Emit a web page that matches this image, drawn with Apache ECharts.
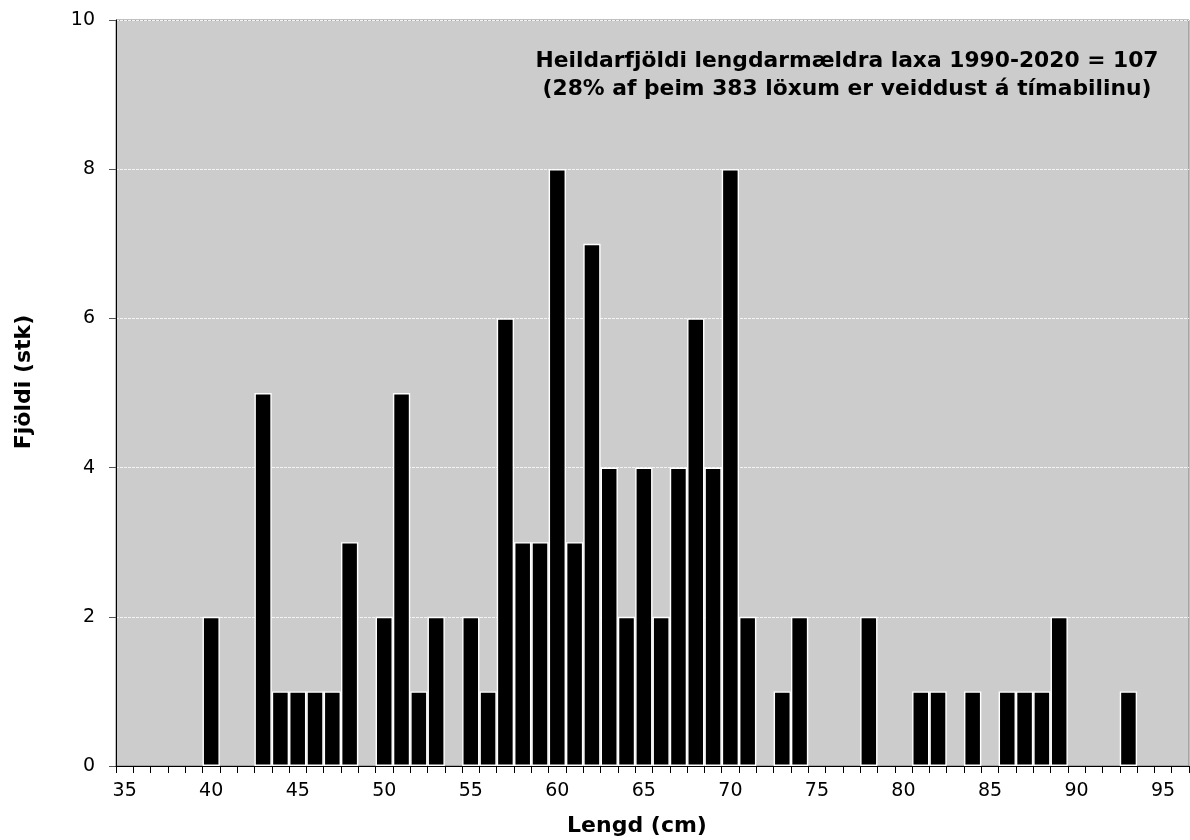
<!DOCTYPE html>
<html>
<head>
<meta charset="utf-8">
<script src="https://cdn.jsdelivr.net/npm/echarts@6/dist/echarts.min.js"></script>
<style>
html,body{margin:0;padding:0;background:#fff;}
#chart{width:1190px;height:840px;}
</style>
</head>
<body>
<div id="chart"></div>
<script>
// Length categories (cm)
var lengths = [];
for (var L = 35; L <= 96; L++) lengths.push(String(L));
// Counts per length, 35..96
var counts = [
  0,0,0,0,0,2,0,0,5,1,   // 35-44
  1,1,1,3,0,2,5,1,2,0,   // 45-54
  2,1,6,3,3,8,3,7,4,2,   // 55-64
  4,2,4,6,4,8,2,0,1,2,   // 65-74
  0,0,0,2,0,0,1,1,0,1,   // 75-84
  0,1,1,1,2,0,0,0,1,0,   // 85-94
  0,0                    // 95-96
];
var yTicks = { min: 0, max: 10, step: 2 };
var xTitle = 'Lengd (cm)';
var yTitle = 'Fjöldi (stk)';
var noteLines = [
  'Heildarfjöldi lengdarmældra laxa 1990-2020 = 107',
  '(28% af þeim 383 löxum er veiddust á tímabilinu)'
];

// empty lengths are drawn as no bar (avoid zero-height border marks)
var barData = counts.map(function (v) { return v === 0 ? '-' : v; });

var FONT = "'DejaVu Sans', Verdana, sans-serif";
var chart = echarts.init(document.getElementById('chart'), null, {renderer: 'canvas'});
chart.setOption({
  animation: false,
  backgroundColor: '#ffffff',
  grid: {
    left: 116, right: 1, top: 20, bottom: 74,
    show: true, backgroundColor: '#cccccc', borderColor: '#808080', borderWidth: 1
  },
  xAxis: {
    type: 'category',
    data: lengths,
    boundaryGap: true,
    z: 5,
    axisLine: { show: true, lineStyle: { color: '#000', width: 1 } },
    axisTick: { show: true, interval: 0, alignWithLabel: false, length: 7, lineStyle: { color: '#000' } },
    axisLabel: { interval: 4, fontSize: 19, color: '#000', fontFamily: FONT, margin: 16 },
    splitLine: { show: false }
  },
  yAxis: {
    type: 'value',
    min: yTicks.min, max: yTicks.max, interval: yTicks.step,
    axisLine: { show: true, lineStyle: { color: '#000', width: 1 } },
    axisTick: { show: true, length: 7, lineStyle: { color: '#555' } },
    axisLabel: { fontSize: 19, color: '#000', fontFamily: FONT, margin: 21 },
    splitLine: { show: true, lineStyle: { color: '#f4f4f4', width: 1, type: [3, 1] } }
  },
  series: [{
    type: 'bar',
    data: barData,
    barCategoryGap: '0%',
    barGap: '0%',
    itemStyle: { color: '#000', borderColor: '#ffffff', borderWidth: 1.4 },
    silent: true
  }],
  graphic: [
    {
      type: 'text', x: 637, y: 826,
      style: { text: xTitle, font: "bold 22px " + FONT, fill: '#000', textAlign: 'center', textVerticalAlign: 'middle' }
    },
    {
      type: 'text', x: 24, y: 382, rotation: Math.PI / 2,
      style: { text: yTitle, font: "bold 22px " + FONT, fill: '#000', textAlign: 'center', textVerticalAlign: 'middle' }
    },
    {
      type: 'text', x: 847, y: 61,
      style: { text: noteLines[0], font: "bold 21.8px " + FONT, fill: '#000', textAlign: 'center', textVerticalAlign: 'middle' }
    },
    {
      type: 'text', x: 847, y: 89,
      style: { text: noteLines[1], font: "bold 21.8px " + FONT, fill: '#000', textAlign: 'center', textVerticalAlign: 'middle' }
    }
  ]
});
</script>
</body>
</html>
